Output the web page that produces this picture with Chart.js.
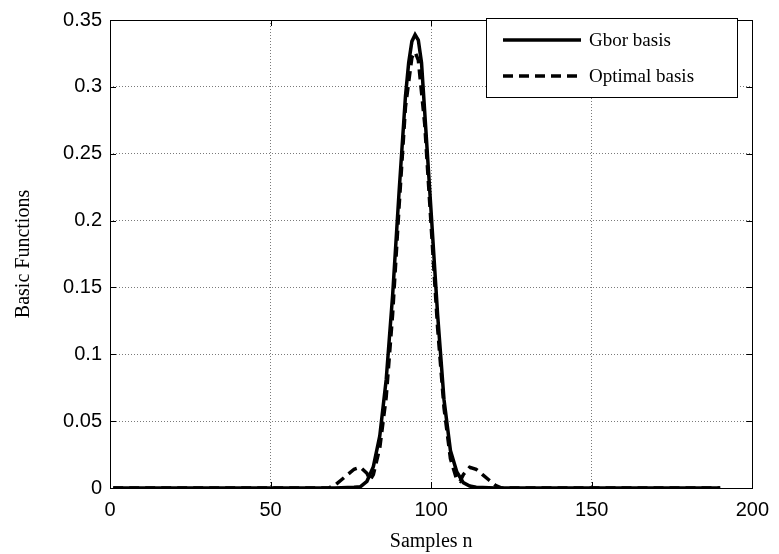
<!DOCTYPE html>
<html>
<head>
<meta charset="utf-8">
<script src="https://cdn.jsdelivr.net/npm/chart.js@4.4.0/dist/chart.umd.min.js"></script>
<style>
  html, body { margin: 0; padding: 0; background: #fff; }
  #wrap { width: 779px; height: 554px; }
</style>
</head>
<body>
<div id="wrap"><canvas id="c" width="779" height="554"></canvas></div>
<script>
// ---- data ----
const seriesNames = ['Gbor basis', 'Optimal basis'];

const gaborX = [1, 70, 76, 78, 80, 82, 84, 86, 88, 90, 92, 93, 94, 95, 96, 97, 98, 100, 102, 104, 106, 108, 110, 112, 114, 120, 190];
const gaborY = [0, 0, 0.0005, 0.001, 0.005, 0.016, 0.039, 0.081, 0.144, 0.221, 0.293, 0.318, 0.334, 0.339, 0.335, 0.318, 0.281, 0.206, 0.130, 0.066, 0.028, 0.012, 0.004, 0.0015, 0.0005, 0, 0];

const optimalX = [1, 68, 70, 72, 74, 76, 78, 80, 81, 82, 84, 86, 88, 90, 92, 94, 95, 96, 98, 100, 102, 104, 106, 108, 109, 110, 112, 114, 116, 118, 120, 122, 190];
const optimalY = [0, 0, 0.002, 0.006, 0.010, 0.014, 0.0155, 0.011, 0.006, 0.010, 0.030, 0.068, 0.130, 0.210, 0.285, 0.322, 0.326, 0.320, 0.272, 0.196, 0.120, 0.060, 0.022, 0.006, 0.005, 0.010, 0.0155, 0.014, 0.010, 0.006, 0.002, 0, 0];

const xTicks = [0, 50, 100, 150, 200];
const xTickLabels = ['0', '50', '100', '150', '200'];
const yTicks = [0, 0.05, 0.1, 0.15, 0.2, 0.25, 0.3, 0.35];
const yTickLabels = ['0', '0.05', '0.1', '0.15', '0.2', '0.25', '0.3', '0.35'];
const xTitle = 'Samples n';
const yTitle = 'Basic Functions';

function toPoints(xs, ys) { return xs.map((x, i) => ({ x: x, y: ys[i] })); }

function labelFor(ticks, labels, v) {
  for (let i = 0; i < ticks.length; i++) if (Math.abs(ticks[i] - v) < 1e-9) return labels[i];
  return '';
}

// MATLAB-like frame, inward ticks, and boxed legend
const framePlugin = {
  id: 'frame',
  afterDatasetsDraw(chart) {
    const { ctx, chartArea: a, scales } = chart;
    ctx.save();
    ctx.strokeStyle = '#000';
    ctx.lineWidth = 1;
    ctx.setLineDash([]);
    ctx.strokeRect(Math.round(a.left) + 0.5, Math.round(a.top) + 0.5, Math.round(a.right - a.left), Math.round(a.bottom - a.top));
    const tl = 6;
    ctx.beginPath();
    xTicks.forEach(v => {
      const px = Math.round(scales.x.getPixelForValue(v)) + 0.5;
      ctx.moveTo(px, a.bottom); ctx.lineTo(px, a.bottom - tl);
      ctx.moveTo(px, a.top); ctx.lineTo(px, a.top + tl);
    });
    yTicks.forEach(v => {
      const py = Math.round(scales.y.getPixelForValue(v)) + 0.5;
      ctx.moveTo(a.left, py); ctx.lineTo(a.left + tl, py);
      ctx.moveTo(a.right, py); ctx.lineTo(a.right - tl, py);
    });
    ctx.stroke();

    // legend box
    const bx = 486, by = 18, bw = 251, bh = 79;
    ctx.fillStyle = '#fff';
    ctx.fillRect(bx, by, bw, bh);
    ctx.strokeRect(bx + 0.5, by + 0.5, bw, bh);
    ctx.font = '19px "Liberation Serif", "Times New Roman", serif';
    ctx.textBaseline = 'middle';
    ctx.fillStyle = '#000';
    chart.data.datasets.forEach((ds, i) => {
      const ly = by + 22 + i * 36;
      ctx.beginPath();
      ctx.lineWidth = ds.borderWidth;
      ctx.setLineDash(ds.borderDash || []);
      ctx.moveTo(bx + 17, ly); ctx.lineTo(bx + 95, ly);
      ctx.stroke();
      ctx.setLineDash([]);
      ctx.fillText(ds.label, bx + 103, ly + 1);
    });
    ctx.restore();
  }
};

new Chart(document.getElementById('c'), {
  type: 'line',
  data: {
    datasets: [
      {
        label: seriesNames[0],
        data: toPoints(gaborX, gaborY),
        borderColor: '#000',
        borderWidth: 3.5,
        pointRadius: 0,
        tension: 0,
        fill: false
      },
      {
        label: seriesNames[1],
        data: toPoints(optimalX, optimalY),
        borderColor: '#000',
        borderWidth: 3.5,
        borderDash: [10, 6],
        pointRadius: 0,
        tension: 0,
        fill: false
      }
    ]
  },
  options: {
    responsive: false,
    animation: false,
    devicePixelRatio: 1,
    layout: { padding: { top: 18, right: 25, left: 0, bottom: 0 } },
    plugins: { legend: { display: false }, tooltip: { enabled: false } },
    scales: {
      x: {
        type: 'linear',
        min: 0, max: 200,
        afterBuildTicks(s) { s.ticks = xTicks.map(v => ({ value: v })); },
        afterFit(s) { s.height = 66; },
        grid: { color: '#7a7a7a', lineWidth: 1, drawTicks: false },
        border: { display: false, dash: [1, 2] },
        ticks: {
          color: '#000',
          padding: 10,
          maxRotation: 0,
          font: { family: '"Liberation Sans", Arial, sans-serif', size: 20 },
          callback: v => labelFor(xTicks, xTickLabels, v)
        },
        title: {
          display: true, text: xTitle, color: '#000',
          font: { family: '"Liberation Serif", "Times New Roman", serif', size: 20 },
          padding: { top: 0, bottom: 0 }
        }
      },
      y: {
        type: 'linear',
        min: 0, max: 0.35,
        afterBuildTicks(s) { s.ticks = yTicks.map(v => ({ value: v })); },
        afterFit(s) { s.width = 110; },
        grid: { color: '#7a7a7a', lineWidth: 1, drawTicks: false },
        border: { display: false, dash: [1, 2] },
        ticks: {
          color: '#000',
          padding: 8,
          font: { family: '"Liberation Sans", Arial, sans-serif', size: 20 },
          callback: v => labelFor(yTicks, yTickLabels, v)
        },
        title: {
          display: true, text: yTitle, color: '#000',
          font: { family: '"Liberation Serif", "Times New Roman", serif', size: 20 },
          padding: { top: 12, bottom: 4 }
        }
      }
    }
  },
  plugins: [framePlugin]
});
</script>
</body>
</html>
